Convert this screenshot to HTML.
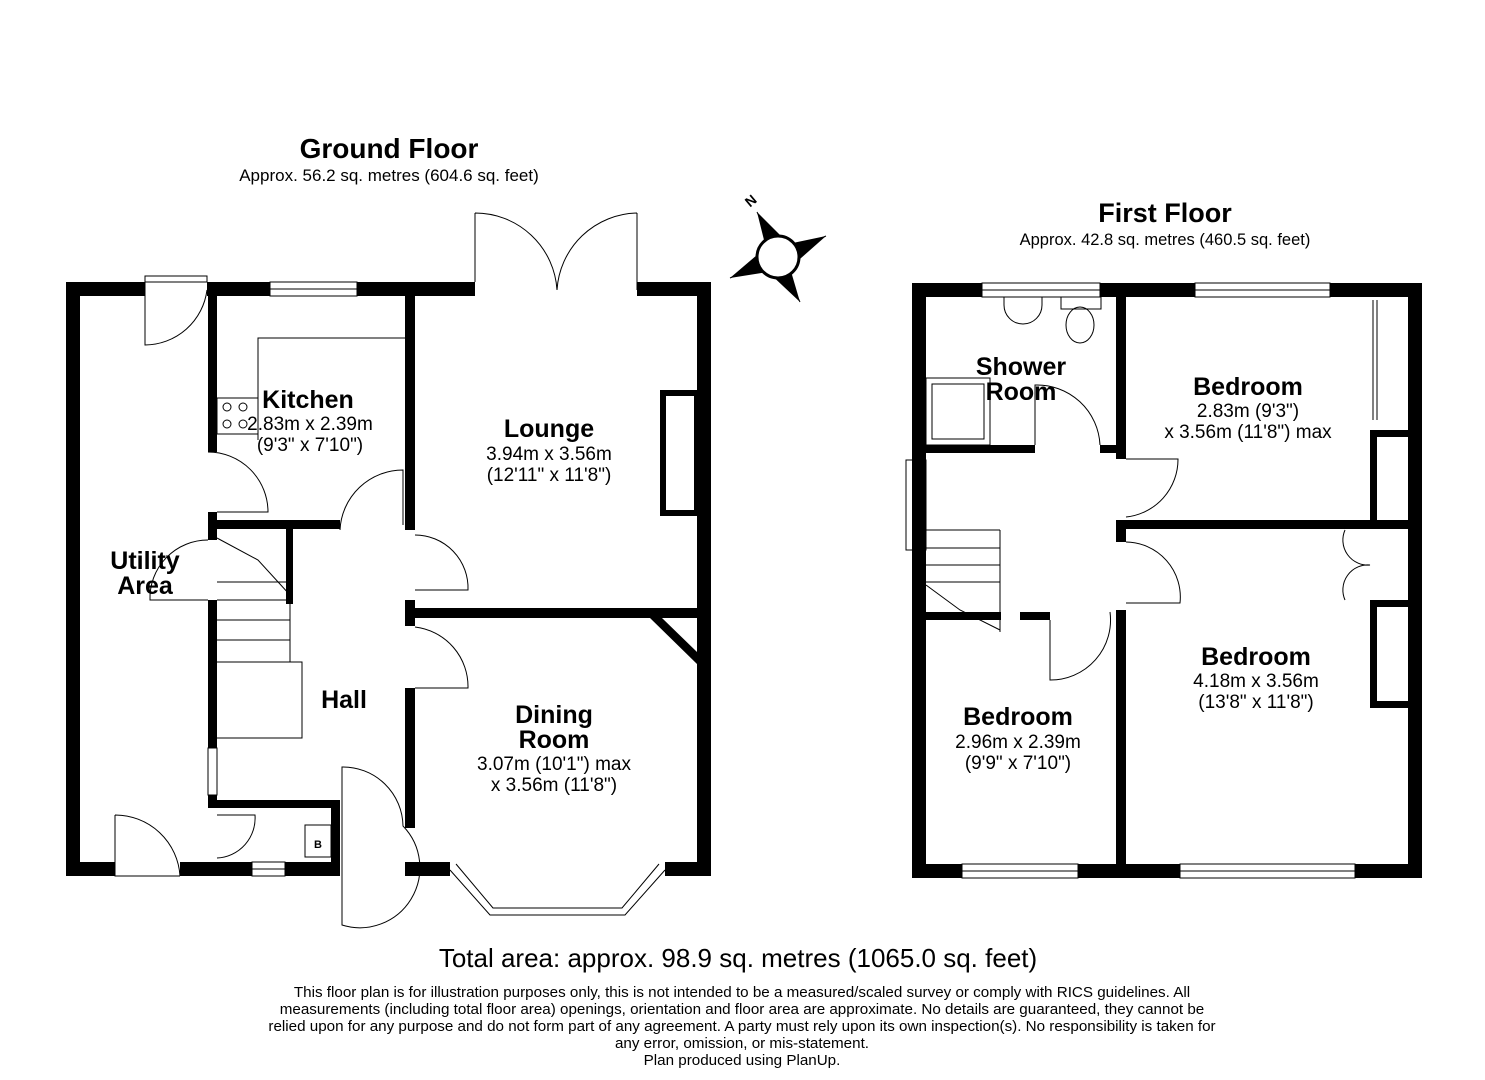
<!DOCTYPE html>
<html><head><meta charset="utf-8"><style>
html,body{margin:0;padding:0;background:#fff;}
svg{display:block;}
text{font-family:"Liberation Sans",Arial,sans-serif;fill:#000;}
.b{font-weight:bold;font-size:25px;}
.m{font-size:19px;}
</style></head><body>
<svg width="1485" height="1080" viewBox="0 0 1485 1080" xmlns="http://www.w3.org/2000/svg">
<g fill="#000">
<rect x="66" y="282" width="14" height="594"/>
<rect x="66" y="282" width="79" height="14"/>
<rect x="207" y="282" width="63" height="14"/>
<rect x="357" y="282" width="118" height="14"/>
<rect x="637" y="282" width="74" height="14"/>
<rect x="697" y="282" width="14" height="594"/>
<rect x="66" y="862" width="49" height="14"/>
<rect x="180" y="862" width="72" height="14"/>
<rect x="285" y="862" width="55" height="14"/>
<rect x="405" y="862" width="45" height="14"/>
<rect x="665" y="862" width="46" height="14"/>
<rect x="208" y="296" width="9" height="156"/>
<rect x="208" y="512" width="9" height="28"/>
<rect x="208" y="600" width="9" height="148"/>
<rect x="208" y="795" width="9" height="13"/>
<rect x="208" y="800" width="132" height="8"/>
<rect x="331" y="800" width="9" height="76"/>
<rect x="217" y="520" width="123" height="9"/>
<rect x="286" y="529" width="7" height="75"/>
<rect x="405" y="296" width="10" height="234"/>
<rect x="405" y="600" width="10" height="26"/>
<rect x="405" y="688" width="10" height="140"/>
<rect x="415" y="608" width="282" height="10"/>
<polygon points="650,618 662,618 697,652 697,664"/>
<rect x="912" y="283" width="14" height="595"/>
<rect x="912" y="283" width="70" height="14"/>
<rect x="1100" y="283" width="95" height="14"/>
<rect x="1330" y="283" width="92" height="14"/>
<rect x="1408" y="283" width="14" height="595"/>
<rect x="912" y="864" width="50" height="14"/>
<rect x="1078" y="864" width="102" height="14"/>
<rect x="1355" y="864" width="67" height="14"/>
<rect x="926" y="445" width="109" height="8"/>
<rect x="1100" y="445" width="16" height="8"/>
<rect x="1116" y="297" width="10" height="162"/>
<rect x="1116" y="520" width="292" height="9"/>
<rect x="1116" y="520" width="10" height="22"/>
<rect x="1116" y="610" width="10" height="254"/>
<rect x="926" y="612" width="75" height="8"/>
<rect x="1020" y="612" width="30" height="8"/>
<rect x="1370" y="430" width="38" height="7"/>
<rect x="1370" y="430" width="7" height="90"/>
<rect x="1370" y="600" width="38" height="7"/>
<rect x="1370" y="600" width="7" height="108"/>
<rect x="1370" y="701" width="38" height="7"/>
</g>
<g fill="none" stroke="#000" stroke-width="1">
<rect x="270" y="282" width="87" height="14"/><line x1="270" y1="289" x2="357" y2="289"/>
<rect x="252" y="862" width="33" height="14"/><line x1="252" y1="869" x2="285" y2="869"/>
<rect x="208" y="748" width="9" height="47"/>
<rect x="663" y="393" width="34" height="120" stroke-width="6"/>
<rect x="145" y="276" width="62" height="6"/>
<path d="M145 282 V345 A63 63 0 0 0 207 290"/>
<path d="M115 815 V876 H180 M115 815 A65 65 0 0 1 180 876"/>
<path d="M208 452 A60 60 0 0 1 268 512 H217"/>
<path d="M217 815 H255 A40 40 0 0 1 217 858"/>
<path d="M208 540 A58 58 0 0 0 150 600 H208"/>
<path d="M340 530 A63 63 0 0 1 403 470 V525"/>
<path d="M415 535 A53 53 0 0 1 468 590 H415"/>
<path d="M415 627 A60 60 0 0 1 468 688 H415"/>
<path d="M342 826 V925 A60 60 0 0 0 403 826 A60 60 0 0 0 342 767 V826"/>
<rect x="305" y="825" width="26" height="32"/>
<path d="M475 213 V282 M637 213 V290 M475 213 A82 82 0 0 1 557 290 M637 213 A82 82 0 0 0 557 290"/>
<path d="M450 870 L490 915 H625 L665 870 M456 864 L493 908 H622 L659 864"/>
<path d="M258 440 V338 H405"/>
<rect x="217" y="398" width="41" height="36"/>
<circle cx="227" cy="407" r="4"/><circle cx="243" cy="407" r="4"/><circle cx="227" cy="424" r="4"/><circle cx="243" cy="424" r="4"/>
<path d="M217 538 L258 560 L290 595"/>
<path d="M217 582 H290 M217 600 H290 M217 620 H290 M217 640 H290 M217 662 H290 M217 738 H302 V662 H290"/>
<line x1="290" y1="604" x2="290" y2="662"/>
<rect x="982" y="283" width="118" height="14"/><line x1="982" y1="290" x2="1100" y2="290"/>
<rect x="1195" y="283" width="135" height="14"/><line x1="1195" y1="290" x2="1330" y2="290"/>
<rect x="962" y="864" width="116" height="14"/><line x1="962" y1="871" x2="1078" y2="871"/>
<rect x="1180" y="864" width="175" height="14"/><line x1="1180" y1="871" x2="1355" y2="871"/>
<rect x="906" y="460" width="20" height="90"/><line x1="916" y1="460" x2="916" y2="550"/>
<path d="M1004 297 H1042 V305 A19 19 0 0 1 1004 305 Z"/>
<rect x="1061" y="297" width="40" height="12"/>
<ellipse cx="1080" cy="325" rx="14" ry="18"/>
<rect x="926" y="378" width="64" height="67"/>
<rect x="932" y="384" width="52" height="55"/>
<path d="M1035 445 V385 A63 63 0 0 1 1100 445"/>
<path d="M1126 459 H1178 A58 58 0 0 1 1126 517"/>
<path d="M1126 542 A55 55 0 0 1 1180 603 H1126"/>
<path d="M1050 620 V680 A60 60 0 0 0 1110 612"/>
<path d="M1377 300 V420 M1373 300 V420"/>
<path d="M1345 600 A25 25 0 0 1 1370 565 A25 25 0 0 1 1345 530"/>
<path d="M926 530 H1000 M926 548 H1000 M926 565 H1000 M926 582 H1000 M1000 530 V632"/>
<path d="M926 585 L960 610 L1000 630"/>
</g>
<g>
<path d="M757 212 L800 302 M730 278 L826 236" stroke="#000" stroke-width="1"/>
<polygon points="757,212 790,245 766,248" fill="#000"/>
<polygon points="826,236 792,266 788,244" fill="#000"/>
<polygon points="800,302 766,270 790,268" fill="#000"/>
<polygon points="730,278 764,249 768,272" fill="#000"/>
<circle cx="778" cy="257" r="21" fill="#fff" stroke="#000" stroke-width="3"/>
<text x="745" y="206" font-size="14" font-weight="bold" transform="rotate(-40 750 200)">N</text>
</g>
<text x="389" y="158" text-anchor="middle" font-weight="bold" font-size="28">Ground Floor</text>
<text x="389" y="181" text-anchor="middle" font-size="17">Approx. 56.2 sq. metres (604.6 sq. feet)</text>
<text x="1165" y="222" text-anchor="middle" font-weight="bold" font-size="27">First Floor</text>
<text x="1165" y="245" text-anchor="middle" font-size="16.5">Approx. 42.8 sq. metres (460.5 sq. feet)</text>
<text x="308" y="408" text-anchor="middle" class="b">Kitchen</text>
<text x="310" y="430" text-anchor="middle" class="m">2.83m x 2.39m</text>
<text x="310" y="451" text-anchor="middle" class="m">(9'3" x 7'10")</text>
<text x="549" y="437" text-anchor="middle" class="b">Lounge</text>
<text x="549" y="460" text-anchor="middle" class="m">3.94m x 3.56m</text>
<text x="549" y="481" text-anchor="middle" class="m">(12'11" x 11'8")</text>
<text x="145" y="569" text-anchor="middle" class="b">Utility</text>
<text x="145" y="594" text-anchor="middle" class="b">Area</text>
<text x="344" y="708" text-anchor="middle" class="b">Hall</text>
<text x="554" y="723" text-anchor="middle" class="b">Dining</text>
<text x="554" y="748" text-anchor="middle" class="b">Room</text>
<text x="554" y="770" text-anchor="middle" class="m">3.07m (10'1") max</text>
<text x="554" y="791" text-anchor="middle" class="m">x 3.56m (11'8")</text>
<text x="1021" y="375" text-anchor="middle" class="b">Shower</text>
<text x="1021" y="400" text-anchor="middle" class="b">Room</text>
<text x="1248" y="395" text-anchor="middle" class="b">Bedroom</text>
<text x="1248" y="417" text-anchor="middle" class="m">2.83m (9'3")</text>
<text x="1248" y="438" text-anchor="middle" class="m">x 3.56m (11'8") max</text>
<text x="1256" y="665" text-anchor="middle" class="b">Bedroom</text>
<text x="1256" y="687" text-anchor="middle" class="m">4.18m x 3.56m</text>
<text x="1256" y="708" text-anchor="middle" class="m">(13'8" x 11'8")</text>
<text x="1018" y="725" text-anchor="middle" class="b">Bedroom</text>
<text x="1018" y="748" text-anchor="middle" class="m">2.96m x 2.39m</text>
<text x="1018" y="769" text-anchor="middle" class="m">(9'9" x 7'10")</text>
<text x="318" y="848" text-anchor="middle" font-size="11" font-weight="bold">B</text>
<text x="738" y="967" text-anchor="middle" font-size="26">Total area: approx. 98.9 sq. metres (1065.0 sq. feet)</text>
<g font-size="15.2" text-anchor="middle">
<text x="742" y="997">This floor plan is for illustration purposes only, this is not intended to be a measured/scaled survey or comply with RICS guidelines. All</text>
<text x="742" y="1014">measurements (including total floor area) openings, orientation and floor area are approximate. No details are guaranteed, they cannot be</text>
<text x="742" y="1031">relied upon for any purpose and do not form part of any agreement. A party must rely upon its own inspection(s). No responsibility is taken for</text>
<text x="742" y="1048">any error, omission, or mis-statement.</text>
<text x="742" y="1065">Plan produced using PlanUp.</text>
</g>
</svg>
</body></html>
